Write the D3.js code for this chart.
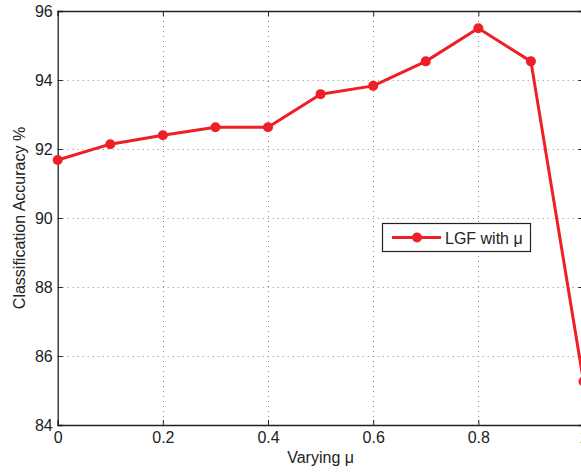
<!DOCTYPE html>
<html><head><meta charset="utf-8">
<script src="https://cdn.jsdelivr.net/npm/d3@7"></script>
<style>body{margin:0;background:#fff;} svg{display:block;} text{font-family:"Liberation Sans",Arial,sans-serif;fill:#222;}</style>
</head><body>
<script>
const muValues = [0, 0.1, 0.2, 0.3, 0.4, 0.5, 0.6, 0.7, 0.8, 0.9, 1.0];
const accuracy = [91.68, 92.14, 92.4, 92.63, 92.63, 93.59, 93.83, 94.54, 95.5, 94.54, 85.26];
const xTicks = [0, 0.2, 0.4, 0.6, 0.8, 1];
const yTicks = [84, 86, 88, 90, 92, 94, 96];
const seriesName = "LGF with μ";

const W = 581, H = 472;
const m = {left: 57.7, top: 11, right: 583.5, bottom: 425};
const svg = d3.select("body").append("svg").attr("width", W).attr("height", H);
const x = d3.scaleLinear().domain([0, 1]).range([m.left, m.right]);
const y = d3.scaleLinear().domain([84, 96]).range([m.bottom, m.top]);

// grid
const grid = svg.append("g").attr("stroke", "#888").attr("stroke-width", 1).attr("stroke-dasharray", "1,4");
grid.selectAll("line.v").data(xTicks.slice(1, -1)).join("line")
  .attr("x1", d => Math.round(x(d)) + 0.5).attr("x2", d => Math.round(x(d)) + 0.5)
  .attr("y1", m.top).attr("y2", m.bottom);
grid.selectAll("line.h").data(yTicks.slice(1, -1)).join("line")
  .attr("y1", d => Math.round(y(d)) + 0.5).attr("y2", d => Math.round(y(d)) + 0.5)
  .attr("x1", m.left).attr("x2", m.right);

// axes
const xAxis = d3.axisBottom(x).tickValues(xTicks).tickSize(-5).tickPadding(7).tickFormat(d3.format("~g"));
const yAxis = d3.axisLeft(y).tickValues(yTicks).tickSize(-5).tickPadding(5).tickFormat(d3.format("d"));
const gx = svg.append("g").attr("transform", `translate(0,${m.bottom})`).call(xAxis);
const gy = svg.append("g").attr("transform", `translate(${m.left},0)`).call(yAxis);
const gxTop = svg.append("g").attr("transform", `translate(0,${m.top})`).call(d3.axisTop(x).tickValues(xTicks).tickSize(-5).tickFormat(""));
const gyRight = svg.append("g").attr("transform", `translate(${m.right},0)`).call(d3.axisRight(y).tickValues(yTicks).tickSize(-5).tickFormat(""));
[gx, gy, gxTop, gyRight].forEach(g => {
  g.select(".domain").attr("stroke", "#222").attr("stroke-width", 1.3);
  g.selectAll(".tick line").attr("stroke", "#222");
  g.selectAll("text").style("font-size", "16px").attr("fill", "#222");
});

// labels
svg.append("text").attr("x", (m.left + m.right) / 2).attr("y", 463).attr("text-anchor", "middle")
  .style("font-size", "16px").text("Varying μ");
svg.append("text").attr("transform", `translate(25,${(m.top + m.bottom) / 2}) rotate(-90)`)
  .attr("text-anchor", "middle").style("font-size", "16px").text("Classification Accuracy %");

// series
const red = "#ee1f26";
const pts = muValues.map((d, i) => [d, accuracy[i]]);
svg.append("path").datum(pts).attr("fill", "none").attr("stroke", red).attr("stroke-width", 3)
  .attr("stroke-linejoin", "round")
  .attr("d", d3.line().x(d => x(d[0])).y(d => y(d[1])));
svg.append("g").selectAll("circle").data(pts).join("circle")
  .attr("cx", d => x(d[0])).attr("cy", d => y(d[1])).attr("r", 5).attr("fill", red);

// legend
const lg = svg.append("g");
lg.append("rect").attr("x", 382.5).attr("y", 223.5).attr("width", 148).attr("height", 28)
  .attr("fill", "#fff").attr("stroke", "#222").attr("stroke-width", 1.2);
lg.append("line").attr("x1", 392).attr("x2", 441).attr("y1", 237.5).attr("y2", 237.5)
  .attr("stroke", red).attr("stroke-width", 3);
lg.append("circle").attr("cx", 417).attr("cy", 237.5).attr("r", 5).attr("fill", red);
lg.append("text").attr("x", 445).attr("y", 244).style("font-size", "16px").text(seriesName);
</script>
</body></html>
